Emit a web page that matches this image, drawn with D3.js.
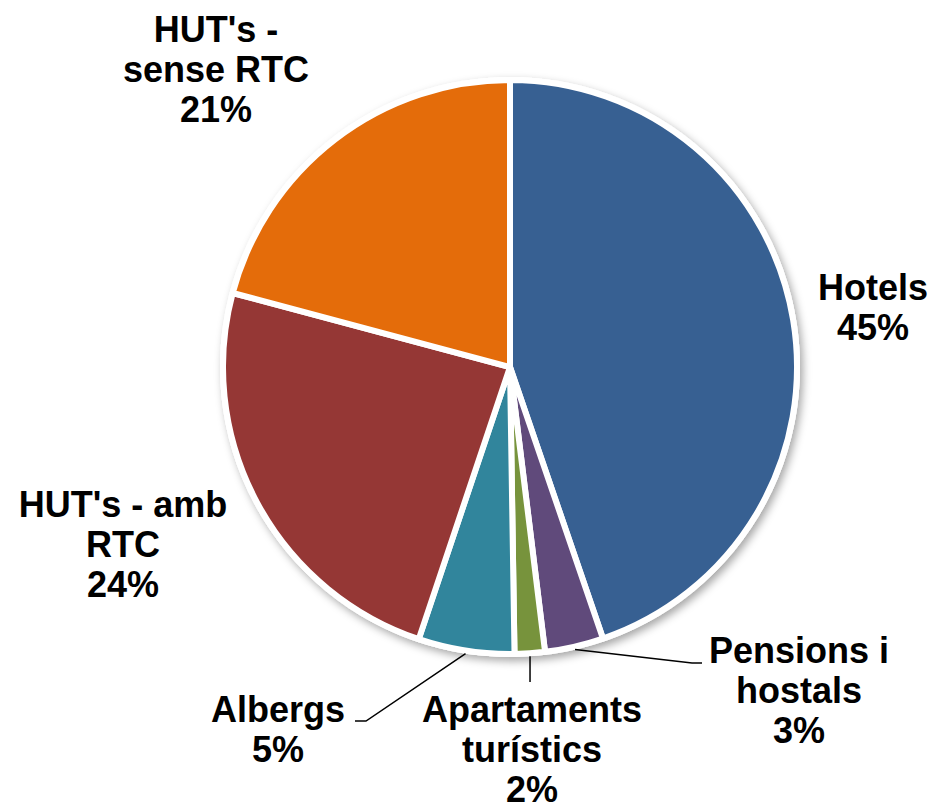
<!DOCTYPE html>
<html>
<head>
<meta charset="utf-8">
<script src="https://cdn.jsdelivr.net/npm/d3@7"></script>
<style>
  html, body { margin: 0; padding: 0; background: #fff; }
  svg { display: block; }
</style>
</head>
<body>
<svg id="chart" width="934" height="811"></svg>
<script>
// ---- data ----
const categories = ["Hotels", "Pensions i hostals", "Apartaments turístics", "Albergs", "HUT's - amb RTC", "HUT's - sense RTC"];
const values = [44.75, 3.3, 1.7, 5.4, 24.0, 20.85];
const colors = ["#376092", "#604A7B", "#77933C", "#31859C", "#953735", "#E46C0A"];
const labelLines = [
  ["Hotels"],
  ["Pensions i", "hostals"],
  ["Apartaments", "turístics"],
  ["Albergs"],
  ["HUT's - amb", "RTC"],
  ["HUT's -", "sense RTC"]
];

// ---- layout ----
const W = 934, H = 811;
const cx = 510, cy = 367, R = 287;
const labelLayout = [
  { x: 873, y: 300 },
  { x: 799, y: 663 },
  { x: 532, y: 722 },
  { x: 278, y: 722 },
  { x: 123, y: 517 },
  { x: 216, y: 42 }
];
const lineHeight = 40;

const svg = d3.select("#chart");

const defs = svg.append("defs");
const f = defs.append("filter").attr("id", "shadow")
  .attr("x", "-20%").attr("y", "-20%").attr("width", "140%").attr("height", "140%");
f.append("feDropShadow").attr("dx", 3).attr("dy", 4).attr("stdDeviation", 4)
  .attr("flood-color", "#000").attr("flood-opacity", 0.35);

const data = categories.map((c, i) => ({ name: c, value: values[i], color: colors[i], lines: labelLines[i], pos: labelLayout[i] }));

const pie = d3.pie().value(d => d.value).sort(null);
const arcs = pie(data);
const arc = d3.arc().innerRadius(0).outerRadius(R);

const g = svg.append("g").attr("transform", `translate(${cx},${cy})`);

// white disc with shadow behind
g.append("circle").attr("r", R + 3).attr("fill", "#fff").attr("filter", "url(#shadow)");

g.selectAll("path.slice").data(arcs).join("path")
  .attr("class", "slice")
  .attr("d", arc)
  .attr("fill", d => d.data.color)
  .attr("stroke", "#fff")
  .attr("stroke-width", 6)
  .attr("stroke-linejoin", "round");

// leader lines for small slices
const leaderArc = d3.arc().innerRadius(R - 2).outerRadius(R - 2);
const leaders = [
  { idx: 1, pts: (p) => [p, [692 - cx, 663 - cy], [702 - cx, 663 - cy]] },
  { idx: 2, pts: (p) => [p, [p[0], 682 - cy]] },
  { idx: 3, pts: (p) => [p, [366 - cx, 721 - cy], [355 - cx, 721 - cy]] }
];
leaders.forEach(l => {
  const a = arcs[l.idx];
  const mid = (a.startAngle + a.endAngle) / 2;
  const p = [Math.sin(mid) * (R + 3), -Math.cos(mid) * (R + 3)];
  g.append("path")
    .attr("d", d3.line()(l.pts(p)))
    .attr("fill", "none")
    .attr("stroke", "#000")
    .attr("stroke-width", 1.5);
});

// labels
const fmt = v => Math.round(v) + "%";
const lab = svg.append("g")
  .attr("font-family", "'Liberation Sans', Arial, sans-serif")
  .attr("font-weight", "bold")
  .attr("font-size", 36)
  .attr("fill", "#000")
  .attr("text-anchor", "middle");

data.forEach(d => {
  const t = lab.append("text").attr("x", d.pos.x).attr("y", d.pos.y);
  const lines = d.lines.concat([fmt(d.value)]);
  lines.forEach((s, i) => {
    t.append("tspan").attr("x", d.pos.x).attr("y", d.pos.y + i * lineHeight).text(s);
  });
});
</script>
</body>
</html>
